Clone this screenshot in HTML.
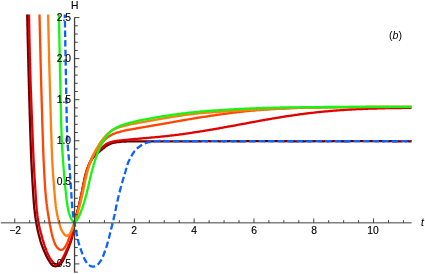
<!DOCTYPE html>
<html><head><meta charset="utf-8"><title>plot</title>
<style>
html,body{margin:0;padding:0;background:#fff;}
body{width:425px;height:274px;position:relative;overflow:hidden;font-family:"Liberation Sans",sans-serif;}
.l{position:absolute;font-size:10.3px;line-height:10.3px;color:#000;white-space:nowrap;will-change:transform;-webkit-text-stroke:0.15px #000;}
</style></head><body>
<svg width="425" height="274" viewBox="0 0 425 274" style="position:absolute;left:0;top:0"><rect width="425" height="274" fill="#fff"/><path d="M27.2 14.6L27.2 15.6L27.2 16.6L27.3 17.6L27.3 18.6L27.3 19.6L27.3 20.6L27.4 21.6L27.4 22.6L27.4 23.6L27.4 24.6L27.4 25.6L27.5 26.6L27.5 27.6L27.5 28.6L27.5 29.6L27.6 30.6L27.6 31.6L27.6 32.6L27.6 33.6L27.6 34.6L27.7 35.6L27.7 36.6L27.7 37.6L27.7 38.6L27.8 39.6L27.8 40.6L27.8 41.6L27.8 42.6L27.9 43.6L27.9 44.6L27.9 45.6L27.9 46.6L28.0 47.6L28.0 48.6L28.0 49.6L28.0 50.6L28.1 51.6L28.1 52.6L28.1 53.6L28.1 54.6L28.2 55.6L28.2 56.6L28.2 57.6L28.2 58.6L28.3 59.6L28.3 60.6L28.3 61.6L28.3 62.6L28.4 63.6L28.4 64.6L28.4 65.6L28.4 66.6L28.5 67.6L28.5 68.6L28.5 69.6L28.5 70.6L28.6 71.6L28.6 72.6L28.6 73.6L28.6 74.6L28.7 75.6L28.7 76.6L28.7 77.6L28.8 78.6L28.8 79.6L28.8 80.6L28.8 81.6L28.9 82.6L28.9 83.6L28.9 84.6L28.9 85.6L29.0 86.6L29.0 87.6L29.0 88.6L29.1 89.6L29.1 90.6L29.1 91.6L29.1 92.6L29.2 93.6L29.2 94.6L29.2 95.6L29.3 96.6L29.3 97.6L29.3 98.6L29.3 99.6L29.4 100.6L29.4 101.6L29.4 102.6L29.5 103.6L29.5 104.6L29.5 105.6L29.5 106.6L29.6 107.6L29.6 108.6L29.6 109.6L29.7 110.6L29.7 111.6L29.7 112.6L29.7 113.6L29.8 114.6L29.8 115.6L29.8 116.6L29.9 117.6L29.9 118.6L29.9 119.6L29.9 120.6L30.0 121.6L30.0 122.6L30.0 123.6L30.1 124.6L30.1 125.6L30.1 126.6L30.2 127.6L30.2 128.6L30.2 129.6L30.3 130.6L30.3 131.6L30.3 132.6L30.4 133.6L30.4 134.6L30.4 135.6L30.5 136.6L30.5 137.6L30.5 138.6L30.6 139.6L30.6 140.6L30.6 141.6L30.7 142.6L30.7 143.6L30.7 144.6L30.8 145.6L30.8 146.6L30.8 147.5L30.9 148.5L30.9 149.5L30.9 150.5L31.0 151.5L31.0 152.5L31.0 153.5L31.1 154.5L31.1 155.5L31.2 156.5L31.2 157.5L31.2 158.5L31.3 159.5L31.3 160.5L31.4 161.5L31.4 162.5L31.5 163.5L31.5 164.5L31.6 165.5L31.6 166.5L31.7 167.5L31.7 168.5L31.8 169.5L31.8 170.5L31.9 171.5L31.9 172.5L32.0 173.5L32.0 174.5L32.1 175.5L32.2 176.5L32.2 177.5L32.3 178.5L32.3 179.5L32.4 180.5L32.4 181.5L32.5 182.5L32.6 183.5L32.6 184.5L32.7 185.5L32.8 186.5L32.8 187.5L32.9 188.5L32.9 189.5L33.0 190.5L33.1 191.5L33.1 192.5L33.2 193.5L33.3 194.5L33.3 195.5L33.4 196.5L33.5 197.5L33.5 198.5L33.6 199.5L33.7 200.5L33.7 201.5L33.8 202.5L33.9 203.5L34.0 204.5L34.1 205.5L34.2 206.5L34.2 207.4L34.3 208.4L34.5 209.4L34.6 210.4L34.7 211.4L34.8 212.4L34.9 213.4L35.0 214.4L35.2 215.4L35.3 216.4L35.4 217.4L35.6 218.4L35.7 219.4L35.9 220.3L36.0 221.3L36.2 222.3L36.4 223.3L36.5 224.3L36.7 225.3L36.9 226.3L37.1 227.2L37.3 228.2L37.5 229.2L37.7 230.2L37.9 231.1L38.2 232.1L38.4 233.1L38.6 234.1L38.9 235.0L39.1 236.0L39.4 237.0L39.6 237.9L39.9 238.9L40.2 239.9L40.4 240.8L40.7 241.8L41.0 242.7L41.3 243.7L41.7 244.6L42.0 245.6L42.3 246.5L42.7 247.5L43.0 248.4L43.4 249.3L43.8 250.2L44.2 251.2L44.6 252.1L45.0 253.0L45.4 253.9L45.8 254.8L46.2 255.7L46.7 256.6L47.1 257.5L47.6 258.4L48.1 259.2L48.6 260.1L49.2 260.9L49.7 261.8L50.2 262.6L50.8 263.5L51.4 264.2L52.1 265.0L52.8 265.6L53.6 266.0L54.5 266.2L55.5 266.3L56.4 266.1L57.4 265.9L58.3 265.5L59.2 265.0L59.9 264.4L60.7 263.8L61.3 263.0L61.9 262.2L62.5 261.4L63.0 260.5L63.4 259.7L63.9 258.8L64.3 257.9L64.7 256.9L65.1 256.0L65.5 255.1L65.9 254.2L66.3 253.3L66.7 252.4L67.1 251.4L67.5 250.5L67.9 249.6L68.2 248.7L68.6 247.7L69.0 246.8L69.3 245.9L69.7 244.9L70.0 244.0L70.3 243.0L70.7 242.1L71.0 241.1L71.3 240.2L71.5 239.2L71.8 238.3L72.1 237.3L72.3 236.3L72.5 235.4L72.7 234.4L72.9 233.4L73.0 232.4L73.2 231.4L73.3 230.4L73.5 229.4L73.6 228.4L73.8 227.5L73.9 226.5L74.1 225.5L74.2 224.5L74.4 223.5L74.6 222.5L74.8 221.5L75.0 220.6L75.2 219.6L75.5 218.6L75.7 217.7L76.0 216.7L76.2 215.7L76.5 214.8L76.7 213.8L77.0 212.8L77.3 211.9L77.5 210.9L77.8 209.9L78.1 209.0L78.3 208.0L78.6 207.0L78.8 206.1L79.1 205.1L79.3 204.1L79.5 203.1L79.7 202.2L80.0 201.2L80.2 200.2L80.4 199.2L80.6 198.3L80.8 197.3L81.0 196.3L81.2 195.3L81.4 194.4L81.6 193.4L81.8 192.4L82.0 191.4L82.2 190.4L82.4 189.5L82.6 188.5L82.8 187.5L83.0 186.5L83.2 185.5L83.4 184.5L83.6 183.6L83.8 182.6L84.0 181.6L84.2 180.6L84.4 179.6L84.6 178.7L84.8 177.7L85.0 176.7L85.3 175.8L85.5 174.8L85.8 173.8L86.0 172.8L86.3 171.9L86.6 170.9L86.9 170.0L87.3 169.0L87.6 168.1L88.0 167.2L88.4 166.3L88.8 165.3L89.2 164.4L89.6 163.5L90.1 162.6L90.5 161.8L91.0 160.9L91.5 160.0L92.1 159.2L92.6 158.4L93.2 157.6L93.9 156.8L94.5 156.0L95.2 155.3L96.0 154.7L96.7 154.0L97.5 153.4L98.2 152.7L99.0 152.0L99.7 151.4L100.5 150.7L101.3 150.1L102.0 149.4L102.8 148.8L103.6 148.2L104.4 147.6L105.1 146.9L105.9 146.3L106.8 145.8L107.6 145.2L108.5 144.7L109.4 144.3L110.3 143.9L111.2 143.5L112.2 143.2L113.1 142.9L114.1 142.7L115.1 142.5L116.0 142.3L117.0 142.2L118.0 142.1L119.0 142.0L120.0 141.9L121.0 141.8L122.0 141.7L123.0 141.6L124.0 141.6L125.0 141.5L126.0 141.5L127.0 141.4L128.0 141.4L129.0 141.4L130.0 141.4L131.0 141.4L132.0 141.3L133.0 141.3L134.0 141.3L135.0 141.3L136.0 141.3L137.0 141.3L138.0 141.3L139.0 141.3L140.0 141.3L141.0 141.3L142.0 141.3L143.0 141.3L144.0 141.3L145.0 141.3L146.0 141.3L147.0 141.3L148.0 141.3L149.0 141.3L150.0 141.3L151.0 141.3L152.0 141.3L153.0 141.3L154.0 141.3L155.0 141.3L156.0 141.3L157.0 141.3L158.0 141.3L159.0 141.3L160.0 141.3L161.0 141.3L162.0 141.3L163.0 141.3L164.0 141.3L165.0 141.3L166.0 141.3L167.0 141.3L168.0 141.3L169.0 141.3L170.0 141.3L171.0 141.3L172.0 141.3L173.0 141.3L174.0 141.3L175.0 141.3L176.0 141.3L177.0 141.3L178.0 141.3L179.0 141.3L180.0 141.3L181.0 141.3L182.0 141.3L183.0 141.3L184.0 141.3L185.0 141.3L186.0 141.3L187.0 141.3L188.0 141.3L189.0 141.3L190.0 141.3L191.0 141.3L192.0 141.3L193.0 141.3L194.0 141.3L195.0 141.3L196.0 141.3L197.0 141.3L198.0 141.3L199.0 141.2L200.0 141.3L201.0 141.3L202.0 141.2L203.0 141.2L204.0 141.2L205.0 141.2L206.0 141.3L207.0 141.3L208.0 141.2L209.0 141.2L210.0 141.3L211.0 141.2L212.0 141.2L213.0 141.2L214.0 141.2L215.0 141.2L216.0 141.2L217.0 141.2L218.0 141.2L219.0 141.3L220.0 141.3L221.0 141.2L222.0 141.2L223.0 141.3L224.0 141.2L225.0 141.3L226.0 141.2L227.0 141.2L228.0 141.3L229.0 141.2L230.0 141.2L231.0 141.2L232.0 141.2L233.0 141.3L234.0 141.2L235.0 141.2L236.0 141.2L237.0 141.3L238.0 141.2L239.0 141.3L240.0 141.2L241.0 141.3L242.0 141.2L243.0 141.3L244.0 141.3L245.0 141.3L246.0 141.2L247.0 141.2L248.0 141.2L249.0 141.2L250.0 141.2L251.0 141.2L252.0 141.2L253.0 141.2L254.0 141.2L255.0 141.2L256.0 141.2L257.0 141.2L258.0 141.2L259.0 141.2L260.0 141.2L261.0 141.2L262.0 141.2L263.0 141.2L264.0 141.2L265.0 141.2L266.0 141.2L267.0 141.2L268.0 141.2L269.0 141.2L270.0 141.2L271.0 141.2L272.0 141.3L273.0 141.2L274.0 141.2L275.0 141.2L276.0 141.2L277.0 141.2L278.0 141.2L279.0 141.2L280.0 141.3L281.0 141.2L282.0 141.2L283.0 141.2L284.0 141.2L285.0 141.3L286.0 141.2L287.0 141.2L288.0 141.2L289.0 141.3L290.0 141.2L291.0 141.3L292.0 141.2L293.0 141.3L294.0 141.2L295.0 141.3L296.0 141.3L297.0 141.3L298.0 141.2L299.0 141.2L300.0 141.2L301.0 141.2L302.0 141.3L303.0 141.2L304.0 141.3L305.0 141.3L306.0 141.2L307.0 141.2L308.0 141.2L309.0 141.2L310.0 141.3L311.0 141.3L312.0 141.2L313.0 141.2L314.0 141.3L315.0 141.2L316.0 141.2L317.0 141.2L318.0 141.2L319.0 141.2L320.0 141.2L321.0 141.2L322.0 141.2L323.0 141.3L324.0 141.3L325.0 141.2L326.0 141.2L327.0 141.3L328.0 141.2L329.0 141.3L330.0 141.2L331.0 141.2L332.0 141.3L333.0 141.2L334.0 141.2L335.0 141.2L336.0 141.2L337.0 141.3L338.0 141.2L339.0 141.2L340.0 141.2L341.0 141.3L342.0 141.2L343.0 141.3L344.0 141.2L345.0 141.3L346.0 141.2L347.0 141.3L348.0 141.3L349.0 141.3L350.0 141.2L351.0 141.2L352.0 141.2L353.0 141.2L354.0 141.2L355.0 141.2L356.0 141.2L357.0 141.2L358.0 141.2L359.0 141.2L360.0 141.2L361.0 141.2L362.0 141.2L363.0 141.2L364.0 141.2L365.0 141.2L366.0 141.2L367.0 141.2L368.0 141.2L369.0 141.2L370.0 141.2L371.0 141.2L372.0 141.2L373.0 141.2L374.0 141.2L375.0 141.2L376.0 141.3L377.0 141.2L378.0 141.2L379.0 141.2L380.0 141.2L381.0 141.2L382.0 141.2L383.0 141.2L384.0 141.3L385.0 141.2L386.0 141.2L387.0 141.2L388.0 141.2L389.0 141.3L390.0 141.2L391.0 141.2L392.0 141.2L393.0 141.3L394.0 141.2L395.0 141.3L396.0 141.2L397.0 141.3L398.0 141.2L399.0 141.3L400.0 141.3L401.0 141.3L402.0 141.2L403.0 141.2L404.0 141.2L405.0 141.2L406.0 141.3L407.0 141.2L408.0 141.2L409.0 141.3L410.0 141.3L411.0 141.2L411.5 141.3" fill="none" stroke="#6b0000" stroke-width="2.3" stroke-linejoin="round"/><path d="M29.0 14.6L29.0 15.6L29.0 16.6L29.0 17.6L29.1 18.6L29.1 19.6L29.1 20.6L29.1 21.6L29.1 22.6L29.1 23.6L29.2 24.6L29.2 25.6L29.2 26.6L29.2 27.6L29.2 28.6L29.3 29.6L29.3 30.6L29.3 31.6L29.3 32.6L29.3 33.6L29.4 34.6L29.4 35.6L29.4 36.6L29.4 37.6L29.4 38.6L29.5 39.6L29.5 40.6L29.5 41.6L29.5 42.6L29.6 43.6L29.6 44.6L29.6 45.6L29.6 46.6L29.7 47.6L29.7 48.6L29.7 49.6L29.7 50.6L29.7 51.6L29.8 52.6L29.8 53.6L29.8 54.6L29.8 55.6L29.9 56.6L29.9 57.6L29.9 58.6L30.0 59.6L30.0 60.6L30.0 61.6L30.0 62.6L30.1 63.6L30.1 64.6L30.1 65.6L30.1 66.6L30.2 67.6L30.2 68.6L30.2 69.6L30.2 70.6L30.3 71.6L30.3 72.6L30.3 73.6L30.4 74.6L30.4 75.6L30.4 76.6L30.5 77.6L30.5 78.6L30.5 79.6L30.5 80.6L30.6 81.6L30.6 82.6L30.6 83.6L30.7 84.6L30.7 85.6L30.7 86.6L30.8 87.6L30.8 88.6L30.8 89.6L30.9 90.6L30.9 91.6L31.0 92.6L31.0 93.6L31.0 94.6L31.1 95.6L31.1 96.6L31.1 97.6L31.2 98.6L31.2 99.6L31.2 100.6L31.3 101.6L31.3 102.6L31.4 103.6L31.4 104.6L31.4 105.6L31.5 106.6L31.5 107.6L31.5 108.6L31.6 109.6L31.6 110.6L31.7 111.6L31.7 112.6L31.7 113.6L31.8 114.6L31.8 115.6L31.9 116.6L31.9 117.6L31.9 118.6L32.0 119.6L32.0 120.6L32.0 121.6L32.1 122.6L32.1 123.6L32.2 124.6L32.2 125.6L32.2 126.5L32.3 127.5L32.3 128.5L32.4 129.5L32.4 130.5L32.4 131.5L32.5 132.5L32.5 133.5L32.6 134.5L32.6 135.5L32.6 136.5L32.7 137.5L32.7 138.5L32.8 139.5L32.8 140.5L32.8 141.5L32.9 142.5L32.9 143.5L33.0 144.5L33.0 145.5L33.0 146.5L33.1 147.5L33.1 148.5L33.1 149.5L33.2 150.5L33.2 151.5L33.3 152.5L33.3 153.5L33.4 154.5L33.4 155.5L33.4 156.5L33.5 157.5L33.5 158.5L33.6 159.5L33.6 160.5L33.7 161.5L33.7 162.5L33.8 163.5L33.8 164.5L33.9 165.5L33.9 166.5L34.0 167.5L34.1 168.5L34.1 169.5L34.2 170.5L34.2 171.5L34.3 172.5L34.3 173.5L34.4 174.5L34.5 175.5L34.5 176.5L34.6 177.5L34.6 178.5L34.7 179.5L34.8 180.5L34.8 181.5L34.9 182.5L35.0 183.5L35.0 184.5L35.1 185.5L35.2 186.5L35.2 187.5L35.3 188.5L35.3 189.5L35.4 190.5L35.5 191.5L35.5 192.5L35.6 193.5L35.7 194.5L35.7 195.5L35.8 196.5L35.9 197.5L35.9 198.5L36.0 199.5L36.0 200.4L36.1 201.4L36.2 202.4L36.2 203.4L36.3 204.4L36.4 205.4L36.5 206.4L36.5 207.4L36.6 208.4L36.7 209.4L36.8 210.4L37.0 211.4L37.1 212.4L37.2 213.4L37.3 214.4L37.4 215.4L37.6 216.4L37.7 217.4L37.9 218.3L38.0 219.3L38.2 220.3L38.3 221.3L38.5 222.3L38.7 223.3L38.9 224.3L39.1 225.2L39.3 226.2L39.5 227.2L39.7 228.2L39.9 229.1L40.2 230.1L40.4 231.1L40.7 232.1L40.9 233.0L41.2 234.0L41.5 235.0L41.7 235.9L42.0 236.9L42.3 237.8L42.5 238.8L42.8 239.8L43.1 240.7L43.4 241.7L43.7 242.6L44.0 243.6L44.3 244.5L44.6 245.5L44.9 246.4L45.2 247.4L45.6 248.3L45.9 249.3L46.3 250.2L46.6 251.1L47.0 252.1L47.4 253.0L47.8 253.9L48.2 254.8L48.7 255.7L49.1 256.6L49.6 257.5L50.1 258.3L50.7 259.2L51.2 260.0L51.8 260.8L52.4 261.6L53.1 262.3L53.8 263.1L54.5 263.7L55.3 264.2L56.1 264.5L57.0 264.5L57.8 264.2L58.6 263.7L59.4 263.1L60.1 262.4L60.7 261.6L61.2 260.8L61.8 259.9L62.3 259.1L62.7 258.2L63.2 257.3L63.6 256.4L64.1 255.5L64.5 254.6L65.0 253.7L65.4 252.8L65.8 251.9L66.2 251.0L66.6 250.1L67.0 249.2L67.5 248.3L67.9 247.4L68.3 246.5L68.7 245.5L69.1 244.6L69.5 243.7L69.9 242.8L70.3 241.8L70.6 240.9L70.9 240.0L71.2 239.0L71.5 238.0L71.8 237.1L72.0 236.1L72.2 235.1L72.5 234.2L72.7 233.2L72.9 232.2L73.0 231.2L73.2 230.2L73.4 229.3L73.5 228.3L73.7 227.3L73.9 226.3L74.0 225.3L74.2 224.3L74.4 223.3L74.6 222.4L74.8 221.4L75.0 220.4L75.3 219.4L75.5 218.5L75.8 217.5L76.0 216.5L76.3 215.6L76.6 214.6L76.8 213.6L77.1 212.7L77.3 211.7L77.6 210.7L77.9 209.8L78.1 208.8L78.4 207.8L78.6 206.9L78.9 205.9L79.1 204.9L79.3 204.0L79.6 203.0L79.8 202.0L80.0 201.0L80.2 200.1L80.4 199.1L80.6 198.1L80.8 197.1L81.0 196.2L81.3 195.2L81.5 194.2L81.7 193.2L81.9 192.2L82.1 191.3L82.3 190.3L82.5 189.3L82.7 188.3L82.9 187.3L83.0 186.4L83.2 185.4L83.4 184.4L83.6 183.4L83.8 182.4L84.0 181.5L84.2 180.5L84.5 179.5L84.7 178.5L84.9 177.5L85.1 176.6L85.4 175.6L85.6 174.6L85.8 173.7L86.1 172.7L86.4 171.7L86.7 170.8L87.0 169.8L87.3 168.9L87.6 167.9L88.0 167.0L88.4 166.1L88.7 165.1L89.1 164.2L89.5 163.3L89.9 162.4L90.4 161.5L90.8 160.6L91.3 159.7L91.8 158.9L92.3 158.0L92.8 157.2L93.4 156.3L94.0 155.5L94.7 154.8L95.3 154.0L96.0 153.3L96.8 152.6L97.5 152.0L98.2 151.3L98.9 150.6L99.7 149.9L100.4 149.2L101.1 148.5L101.8 147.8L102.5 147.1L103.3 146.4L104.0 145.8L104.8 145.1L105.6 144.5L106.4 144.0L107.3 143.5L108.2 143.1L109.1 142.7L110.0 142.4L111.0 142.0L111.9 141.8L112.9 141.5L113.9 141.3L114.9 141.1L115.8 141.0L116.8 140.8L117.8 140.7L118.8 140.6L119.8 140.5L120.8 140.4L121.8 140.3L122.8 140.2L123.8 140.1L124.8 140.0L125.8 139.9L126.8 139.8L127.8 139.7L128.7 139.6L129.7 139.5L130.7 139.4L131.7 139.3L132.7 139.2L133.7 139.1L134.7 139.0L135.7 139.0L136.7 138.9L137.7 138.8L138.7 138.7L139.7 138.6L140.7 138.5L141.7 138.4L142.7 138.3L143.7 138.2L144.7 138.1L145.7 138.1L146.7 138.0L147.7 137.9L148.7 137.8L149.7 137.7L150.7 137.6L151.6 137.5L152.6 137.4L153.6 137.3L154.6 137.3L155.6 137.2L156.6 137.1L157.6 137.0L158.6 136.9L159.6 136.8L160.6 136.7L161.6 136.6L162.6 136.5L163.6 136.4L164.6 136.3L165.6 136.2L166.6 136.1L167.6 136.0L168.6 135.9L169.6 135.7L170.5 135.6L171.5 135.5L172.5 135.4L173.5 135.3L174.5 135.2L175.5 135.0L176.5 134.9L177.5 134.8L178.5 134.7L179.5 134.5L180.5 134.4L181.5 134.3L182.4 134.1L183.4 134.0L184.4 133.8L185.4 133.7L186.4 133.6L187.4 133.4L188.4 133.3L189.4 133.1L190.4 133.0L191.3 132.8L192.3 132.7L193.3 132.5L194.3 132.4L195.3 132.2L196.3 132.1L197.3 131.9L198.3 131.8L199.3 131.6L200.2 131.4L201.2 131.3L202.2 131.1L203.2 131.0L204.2 130.8L205.2 130.6L206.2 130.5L207.1 130.3L208.1 130.1L209.1 130.0L210.1 129.8L211.1 129.6L212.1 129.5L213.1 129.3L214.0 129.1L215.0 129.0L216.0 128.8L217.0 128.6L218.0 128.5L219.0 128.3L220.0 128.1L220.9 127.9L221.9 127.8L222.9 127.6L223.9 127.4L224.9 127.2L225.9 127.1L226.8 126.9L227.8 126.7L228.8 126.5L229.8 126.4L230.8 126.2L231.8 126.0L232.8 125.8L233.7 125.6L234.7 125.5L235.7 125.3L236.7 125.1L237.7 124.9L238.7 124.7L239.6 124.5L240.6 124.4L241.6 124.2L242.6 124.0L243.6 123.8L244.6 123.6L245.5 123.5L246.5 123.3L247.5 123.1L248.5 122.9L249.5 122.7L250.5 122.5L251.4 122.4L252.4 122.2L253.4 122.0L254.4 121.8L255.4 121.6L256.4 121.4L257.3 121.3L258.3 121.1L259.3 120.9L260.3 120.7L261.3 120.5L262.3 120.4L263.2 120.2L264.2 120.0L265.2 119.8L266.2 119.7L267.2 119.5L268.2 119.3L269.1 119.1L270.1 119.0L271.1 118.8L272.1 118.6L273.1 118.4L274.1 118.3L275.1 118.1L276.0 117.9L277.0 117.8L278.0 117.6L279.0 117.5L280.0 117.3L281.0 117.1L282.0 117.0L282.9 116.8L283.9 116.7L284.9 116.5L285.9 116.4L286.9 116.2L287.9 116.1L288.9 115.9L289.9 115.8L290.9 115.6L291.8 115.5L292.8 115.3L293.8 115.2L294.8 115.0L295.8 114.9L296.8 114.8L297.8 114.6L298.8 114.5L299.8 114.4L300.8 114.2L301.7 114.1L302.7 114.0L303.7 113.8L304.7 113.7L305.7 113.6L306.7 113.5L307.7 113.4L308.7 113.2L309.7 113.1L310.7 113.0L311.7 112.9L312.7 112.8L313.7 112.7L314.7 112.6L315.6 112.4L316.6 112.3L317.6 112.2L318.6 112.1L319.6 112.0L320.6 111.9L321.6 111.8L322.6 111.7L323.6 111.6L324.6 111.5L325.6 111.4L326.6 111.3L327.6 111.3L328.6 111.2L329.6 111.1L330.6 111.0L331.6 110.9L332.6 110.8L333.6 110.7L334.6 110.7L335.6 110.6L336.6 110.5L337.5 110.4L338.5 110.3L339.5 110.3L340.5 110.2L341.5 110.1L342.5 110.1L343.5 110.0L344.5 109.9L345.5 109.9L346.5 109.8L347.5 109.7L348.5 109.7L349.5 109.6L350.5 109.5L351.5 109.5L352.5 109.4L353.5 109.4L354.5 109.3L355.5 109.3L356.5 109.2L357.5 109.2L358.5 109.1L359.5 109.1L360.5 109.0L361.5 109.0L362.5 109.0L363.5 108.9L364.5 108.9L365.5 108.8L366.5 108.8L367.5 108.8L368.5 108.7L369.5 108.7L370.5 108.7L371.5 108.6L372.5 108.6L373.5 108.6L374.5 108.5L375.5 108.5L376.5 108.5L377.5 108.4L378.5 108.4L379.5 108.4L380.5 108.4L381.5 108.3L382.5 108.3L383.5 108.3L384.5 108.3L385.5 108.2L386.5 108.2L387.5 108.2L388.5 108.2L389.5 108.2L390.5 108.1L391.5 108.1L392.5 108.1L393.5 108.1L394.5 108.1L395.5 108.0L396.5 108.0L397.5 108.0L398.5 108.0L399.5 108.0L400.5 108.0L401.5 108.0L402.5 107.9L403.5 107.9L404.5 107.9L405.5 107.9L406.5 107.9L407.5 107.9L408.5 107.9L409.5 107.9L410.5 107.8L411.5 107.8" fill="none" stroke="#e00000" stroke-width="2.3" stroke-linejoin="round"/><path d="M39.5 14.6L39.5 15.6L39.5 16.6L39.6 17.6L39.6 18.6L39.6 19.6L39.6 20.6L39.7 21.6L39.7 22.6L39.7 23.6L39.7 24.6L39.7 25.6L39.8 26.6L39.8 27.6L39.8 28.6L39.8 29.6L39.9 30.6L39.9 31.6L39.9 32.6L39.9 33.6L39.9 34.6L40.0 35.6L40.0 36.6L40.0 37.6L40.0 38.6L40.1 39.6L40.1 40.6L40.1 41.6L40.1 42.6L40.2 43.6L40.2 44.6L40.2 45.6L40.2 46.6L40.3 47.6L40.3 48.6L40.3 49.6L40.3 50.6L40.4 51.6L40.4 52.6L40.4 53.6L40.4 54.6L40.5 55.6L40.5 56.6L40.5 57.6L40.5 58.6L40.6 59.6L40.6 60.6L40.6 61.6L40.6 62.6L40.7 63.6L40.7 64.6L40.7 65.6L40.7 66.6L40.8 67.6L40.8 68.6L40.8 69.6L40.8 70.6L40.9 71.6L40.9 72.6L40.9 73.6L40.9 74.6L41.0 75.6L41.0 76.6L41.0 77.6L41.1 78.6L41.1 79.6L41.1 80.6L41.1 81.6L41.2 82.6L41.2 83.6L41.2 84.6L41.2 85.6L41.3 86.6L41.3 87.6L41.3 88.6L41.4 89.6L41.4 90.6L41.4 91.6L41.4 92.6L41.5 93.6L41.5 94.6L41.5 95.6L41.6 96.6L41.6 97.6L41.6 98.6L41.6 99.6L41.7 100.6L41.7 101.6L41.7 102.6L41.8 103.6L41.8 104.6L41.8 105.6L41.8 106.6L41.9 107.6L41.9 108.6L41.9 109.6L42.0 110.6L42.0 111.6L42.0 112.6L42.0 113.6L42.1 114.6L42.1 115.6L42.1 116.6L42.2 117.6L42.2 118.6L42.2 119.6L42.2 120.6L42.3 121.6L42.3 122.6L42.3 123.6L42.4 124.6L42.4 125.6L42.4 126.6L42.5 127.6L42.5 128.6L42.5 129.6L42.6 130.6L42.6 131.6L42.6 132.6L42.7 133.6L42.7 134.6L42.7 135.6L42.8 136.6L42.8 137.6L42.8 138.6L42.9 139.6L42.9 140.6L42.9 141.6L43.0 142.6L43.0 143.6L43.0 144.6L43.1 145.6L43.1 146.6L43.1 147.5L43.2 148.5L43.2 149.5L43.2 150.5L43.3 151.5L43.3 152.5L43.3 153.5L43.4 154.5L43.4 155.5L43.5 156.5L43.5 157.5L43.5 158.5L43.6 159.5L43.6 160.5L43.7 161.5L43.7 162.5L43.8 163.5L43.8 164.5L43.9 165.5L43.9 166.5L44.0 167.5L44.0 168.5L44.1 169.5L44.1 170.5L44.2 171.5L44.2 172.5L44.3 173.5L44.3 174.5L44.4 175.5L44.4 176.5L44.5 177.5L44.6 178.5L44.6 179.5L44.7 180.5L44.7 181.5L44.8 182.5L44.9 183.5L44.9 184.5L45.0 185.5L45.1 186.5L45.1 187.5L45.2 188.5L45.3 189.5L45.3 190.5L45.4 191.5L45.5 192.5L45.6 193.5L45.7 194.5L45.7 195.5L45.8 196.5L45.9 197.5L46.0 198.5L46.1 199.5L46.3 200.4L46.4 201.4L46.5 202.4L46.6 203.4L46.8 204.4L46.9 205.4L47.0 206.4L47.2 207.4L47.3 208.4L47.4 209.4L47.6 210.4L47.7 211.4L47.9 212.3L48.0 213.3L48.2 214.3L48.3 215.3L48.5 216.3L48.6 217.3L48.8 218.3L49.0 219.3L49.1 220.2L49.3 221.2L49.5 222.2L49.7 223.2L49.8 224.2L50.0 225.2L50.2 226.1L50.4 227.1L50.6 228.1L50.8 229.1L51.0 230.1L51.2 231.0L51.4 232.0L51.6 233.0L51.8 234.0L52.1 234.9L52.3 235.9L52.6 236.9L52.9 237.8L53.2 238.8L53.5 239.7L53.8 240.7L54.1 241.6L54.5 242.6L54.8 243.5L55.2 244.4L55.7 245.3L56.2 246.2L56.7 247.0L57.4 247.7L58.1 248.4L58.8 249.1L59.6 249.5L60.5 249.8L61.4 249.9L62.3 249.6L63.1 249.2L63.8 248.5L64.5 247.8L65.1 247.0L65.6 246.2L66.1 245.3L66.6 244.4L67.0 243.5L67.4 242.6L67.8 241.7L68.1 240.7L68.5 239.8L68.8 238.9L69.1 237.9L69.5 237.0L69.8 236.0L70.1 235.1L70.4 234.1L70.8 233.2L71.1 232.2L71.4 231.3L71.7 230.3L72.1 229.4L72.4 228.5L72.8 227.5L73.1 226.6L73.5 225.7L73.8 224.7L74.1 223.8L74.5 222.8L74.8 221.9L75.1 220.9L75.4 220.0L75.6 219.0L75.9 218.0L76.2 217.1L76.4 216.1L76.7 215.1L76.9 214.2L77.2 213.2L77.4 212.2L77.7 211.3L77.9 210.3L78.2 209.3L78.4 208.4L78.6 207.4L78.9 206.4L79.1 205.4L79.3 204.5L79.5 203.5L79.8 202.5L80.0 201.5L80.2 200.6L80.4 199.6L80.6 198.6L80.8 197.6L81.0 196.7L81.3 195.7L81.5 194.7L81.7 193.7L81.9 192.7L82.1 191.8L82.3 190.8L82.5 189.8L82.7 188.8L82.9 187.8L83.1 186.9L83.3 185.9L83.5 184.9L83.7 183.9L83.9 182.9L84.1 182.0L84.3 181.0L84.5 180.0L84.7 179.0L84.9 178.0L85.1 177.1L85.4 176.1L85.6 175.1L85.8 174.2L86.1 173.2L86.4 172.2L86.6 171.3L86.9 170.3L87.2 169.4L87.5 168.4L87.9 167.5L88.2 166.5L88.5 165.6L88.9 164.7L89.3 163.7L89.7 162.8L90.0 161.9L90.4 161.0L90.9 160.0L91.3 159.1L91.7 158.2L92.1 157.3L92.6 156.4L93.0 155.6L93.5 154.7L94.0 153.8L94.5 152.9L95.0 152.1L95.5 151.2L96.0 150.4L96.6 149.5L97.2 148.7L97.8 147.9L98.4 147.1L99.0 146.4L99.7 145.6L100.3 144.8L101.0 144.1L101.6 143.3L102.3 142.5L102.9 141.8L103.6 141.1L104.3 140.3L105.0 139.6L105.7 138.9L106.5 138.3L107.2 137.6L108.0 137.0L108.8 136.4L109.7 135.9L110.5 135.4L111.4 134.9L112.3 134.4L113.2 134.0L114.1 133.6L115.0 133.3L116.0 132.9L116.9 132.6L117.9 132.3L118.8 132.1L119.8 131.8L120.7 131.5L121.7 131.3L122.7 131.1L123.7 130.8L124.6 130.6L125.6 130.4L126.6 130.2L127.6 130.0L128.5 129.8L129.5 129.6L130.5 129.5L131.5 129.3L132.5 129.1L133.5 128.9L134.4 128.8L135.4 128.6L136.4 128.4L137.4 128.2L138.4 128.1L139.4 127.9L140.4 127.7L141.3 127.6L142.3 127.4L143.3 127.2L144.3 127.1L145.3 126.9L146.3 126.7L147.3 126.6L148.2 126.4L149.2 126.2L150.2 126.1L151.2 125.9L152.2 125.7L153.2 125.5L154.2 125.4L155.1 125.2L156.1 125.0L157.1 124.9L158.1 124.7L159.1 124.5L160.1 124.3L161.0 124.2L162.0 124.0L163.0 123.8L164.0 123.7L165.0 123.5L166.0 123.3L167.0 123.1L167.9 123.0L168.9 122.8L169.9 122.6L170.9 122.4L171.9 122.3L172.9 122.1L173.9 121.9L174.8 121.7L175.8 121.6L176.8 121.4L177.8 121.2L178.8 121.1L179.8 120.9L180.7 120.7L181.7 120.5L182.7 120.4L183.7 120.2L184.7 120.0L185.7 119.8L186.7 119.7L187.6 119.5L188.6 119.3L189.6 119.2L190.6 119.0L191.6 118.8L192.6 118.7L193.6 118.5L194.5 118.3L195.5 118.2L196.5 118.0L197.5 117.9L198.5 117.7L199.5 117.5L200.5 117.4L201.5 117.2L202.4 117.1L203.4 116.9L204.4 116.8L205.4 116.6L206.4 116.5L207.4 116.3L208.4 116.2L209.4 116.0L210.3 115.9L211.3 115.7L212.3 115.6L213.3 115.4L214.3 115.3L215.3 115.2L216.3 115.0L217.3 114.9L218.3 114.7L219.3 114.6L220.2 114.4L221.2 114.3L222.2 114.2L223.2 114.0L224.2 113.9L225.2 113.8L226.2 113.6L227.2 113.5L228.2 113.4L229.2 113.2L230.2 113.1L231.1 113.0L232.1 112.8L233.1 112.7L234.1 112.6L235.1 112.5L236.1 112.4L237.1 112.2L238.1 112.1L239.1 112.0L240.1 111.9L241.1 111.8L242.1 111.7L243.1 111.6L244.1 111.4L245.0 111.3L246.0 111.2L247.0 111.1L248.0 111.0L249.0 110.9L250.0 110.8L251.0 110.7L252.0 110.7L253.0 110.6L254.0 110.5L255.0 110.4L256.0 110.3L257.0 110.2L258.0 110.1L259.0 110.1L260.0 110.0L261.0 109.9L262.0 109.8L263.0 109.8L264.0 109.7L265.0 109.6L266.0 109.5L267.0 109.5L268.0 109.4L269.0 109.3L270.0 109.3L270.9 109.2L271.9 109.2L272.9 109.1L273.9 109.0L274.9 109.0L275.9 108.9L276.9 108.9L277.9 108.8L278.9 108.8L279.9 108.7L280.9 108.7L281.9 108.6L282.9 108.6L283.9 108.5L284.9 108.5L285.9 108.4L286.9 108.4L287.9 108.3L288.9 108.3L289.9 108.2L290.9 108.2L291.9 108.2L292.9 108.1L293.9 108.1L294.9 108.0L295.9 108.0L296.9 108.0L297.9 107.9L298.9 107.9L299.9 107.9L300.9 107.8L301.9 107.8L302.9 107.8L303.9 107.8L304.9 107.7L305.9 107.7L306.9 107.7L307.9 107.7L308.9 107.6L309.9 107.6L310.9 107.6L311.9 107.6L312.9 107.6L313.9 107.5L314.9 107.5L315.9 107.5L316.9 107.5L317.9 107.5L318.9 107.5L319.9 107.4L320.9 107.4L321.9 107.4L322.9 107.4L323.9 107.4L324.9 107.4L325.9 107.4L326.9 107.3L327.9 107.3L328.9 107.3L329.9 107.3L330.9 107.3L331.9 107.3L332.9 107.3L333.9 107.3L334.9 107.3L335.9 107.3L336.9 107.2L337.9 107.2L338.9 107.2L339.9 107.2L340.9 107.2L341.9 107.2L342.9 107.2L343.9 107.2L344.9 107.2L345.9 107.2L346.9 107.2L347.9 107.2L348.9 107.1L349.9 107.1L350.9 107.1L351.9 107.1L352.9 107.1L353.9 107.1L354.9 107.1L355.9 107.1L356.9 107.1L357.9 107.1L358.9 107.1L359.9 107.1L360.9 107.1L361.9 107.1L362.9 107.1L363.9 107.1L364.9 107.1L365.9 107.0L366.9 107.0L367.9 107.0L368.9 107.0L369.9 107.0L370.9 107.0L371.9 107.0L372.9 107.0L373.9 107.0L374.9 107.0L375.9 107.0L376.9 107.0L377.9 107.0L378.9 107.0L379.9 107.0L380.9 107.0L381.9 107.0L382.9 107.0L383.9 107.0L384.9 107.0L385.9 107.0L386.9 107.0L387.9 107.0L388.9 107.0L389.9 107.0L390.9 106.9L391.9 106.9L392.9 106.9L393.9 106.9L394.9 106.9L395.9 106.9L396.9 106.9L397.9 106.9L398.9 106.9L399.9 106.9L400.9 106.9L401.9 106.9L402.9 106.9L403.9 106.9L404.9 106.9L405.9 106.9L406.9 106.9L407.9 106.9L408.9 106.9L409.9 106.9L410.9 106.9L411.4 106.9" fill="none" stroke="#ff4500" stroke-width="2.3" stroke-linejoin="round"/><path d="M48.1 14.6L48.1 15.6L48.1 16.6L48.2 17.6L48.2 18.6L48.2 19.6L48.2 20.6L48.3 21.6L48.3 22.6L48.3 23.6L48.3 24.6L48.3 25.6L48.4 26.6L48.4 27.6L48.4 28.6L48.4 29.6L48.5 30.6L48.5 31.6L48.5 32.6L48.5 33.6L48.5 34.6L48.6 35.6L48.6 36.6L48.6 37.6L48.6 38.6L48.7 39.6L48.7 40.6L48.7 41.6L48.7 42.6L48.8 43.6L48.8 44.6L48.8 45.6L48.8 46.6L48.9 47.6L48.9 48.6L48.9 49.6L48.9 50.6L49.0 51.6L49.0 52.6L49.0 53.6L49.0 54.6L49.1 55.6L49.1 56.6L49.1 57.6L49.1 58.6L49.2 59.6L49.2 60.6L49.2 61.6L49.2 62.6L49.3 63.6L49.3 64.6L49.3 65.6L49.3 66.6L49.4 67.6L49.4 68.6L49.4 69.6L49.4 70.6L49.5 71.6L49.5 72.6L49.5 73.6L49.5 74.6L49.6 75.6L49.6 76.6L49.6 77.6L49.7 78.6L49.7 79.6L49.7 80.6L49.7 81.6L49.8 82.6L49.8 83.6L49.8 84.6L49.8 85.6L49.9 86.6L49.9 87.6L49.9 88.6L50.0 89.6L50.0 90.6L50.0 91.6L50.0 92.6L50.1 93.6L50.1 94.6L50.1 95.6L50.2 96.6L50.2 97.6L50.2 98.6L50.2 99.6L50.3 100.6L50.3 101.6L50.3 102.6L50.4 103.6L50.4 104.6L50.4 105.6L50.4 106.6L50.5 107.6L50.5 108.6L50.5 109.6L50.6 110.6L50.6 111.6L50.6 112.6L50.6 113.6L50.7 114.6L50.7 115.6L50.7 116.6L50.8 117.6L50.8 118.6L50.8 119.6L50.8 120.6L50.9 121.6L50.9 122.6L50.9 123.6L51.0 124.6L51.0 125.6L51.0 126.6L51.1 127.6L51.1 128.6L51.1 129.6L51.2 130.6L51.2 131.6L51.2 132.6L51.3 133.6L51.3 134.6L51.3 135.6L51.4 136.6L51.4 137.6L51.4 138.6L51.5 139.6L51.5 140.6L51.5 141.6L51.6 142.6L51.6 143.6L51.6 144.6L51.6 145.6L51.7 146.6L51.7 147.6L51.7 148.5L51.8 149.5L51.8 150.5L51.9 151.5L51.9 152.5L51.9 153.5L52.0 154.5L52.0 155.5L52.0 156.5L52.1 157.5L52.1 158.5L52.2 159.5L52.2 160.5L52.3 161.5L52.3 162.5L52.4 163.5L52.4 164.5L52.5 165.5L52.6 166.5L52.6 167.5L52.7 168.5L52.7 169.5L52.8 170.5L52.9 171.5L52.9 172.5L53.0 173.5L53.1 174.5L53.2 175.5L53.2 176.5L53.3 177.5L53.4 178.5L53.4 179.5L53.5 180.5L53.6 181.5L53.7 182.5L53.8 183.5L53.8 184.5L53.9 185.5L54.0 186.5L54.1 187.5L54.1 188.5L54.2 189.5L54.3 190.5L54.4 191.5L54.5 192.5L54.6 193.5L54.7 194.5L54.7 195.4L54.8 196.4L54.9 197.4L55.0 198.4L55.1 199.4L55.2 200.4L55.3 201.4L55.4 202.4L55.5 203.4L55.6 204.4L55.7 205.4L55.8 206.4L56.0 207.4L56.1 208.4L56.3 209.4L56.4 210.3L56.6 211.3L56.8 212.3L56.9 213.3L57.1 214.3L57.3 215.3L57.5 216.2L57.8 217.2L58.0 218.2L58.2 219.2L58.4 220.1L58.7 221.1L58.9 222.1L59.2 223.0L59.5 224.0L59.8 225.0L60.0 225.9L60.3 226.9L60.7 227.8L61.0 228.8L61.4 229.7L61.8 230.6L62.3 231.5L62.8 232.3L63.3 233.1L64.0 233.9L64.6 234.6L65.4 235.3L66.2 235.7L67.0 235.8L67.8 235.6L68.6 235.1L69.3 234.5L69.9 233.7L70.4 232.9L70.9 232.0L71.4 231.1L71.9 230.2L72.2 229.3L72.6 228.4L72.9 227.4L73.3 226.5L73.6 225.5L73.9 224.6L74.2 223.6L74.5 222.7L74.9 221.8L75.2 220.8L75.5 219.9L75.8 218.9L76.1 217.9L76.4 217.0L76.7 216.0L77.0 215.1L77.3 214.1L77.6 213.2L77.9 212.2L78.1 211.3L78.4 210.3L78.7 209.3L79.0 208.4L79.2 207.4L79.5 206.4L79.8 205.5L80.0 204.5L80.3 203.5L80.5 202.6L80.8 201.6L81.0 200.6L81.2 199.7L81.4 198.7L81.7 197.7L81.9 196.7L82.1 195.8L82.3 194.8L82.6 193.8L82.8 192.8L83.0 191.9L83.2 190.9L83.4 189.9L83.6 188.9L83.8 187.9L84.0 187.0L84.2 186.0L84.4 185.0L84.6 184.0L84.8 183.0L85.0 182.1L85.2 181.1L85.4 180.1L85.6 179.1L85.9 178.2L86.1 177.2L86.3 176.2L86.5 175.2L86.8 174.3L87.0 173.3L87.3 172.3L87.5 171.4L87.8 170.4L88.1 169.4L88.4 168.5L88.7 167.5L89.0 166.6L89.3 165.6L89.6 164.7L89.9 163.7L90.3 162.8L90.6 161.9L91.0 160.9L91.3 160.0L91.7 159.1L92.1 158.1L92.5 157.2L92.9 156.3L93.3 155.4L93.7 154.5L94.1 153.5L94.5 152.6L94.9 151.7L95.4 150.8L95.8 149.9L96.3 149.1L96.8 148.2L97.3 147.3L97.8 146.5L98.3 145.6L98.8 144.8L99.4 143.9L100.0 143.1L100.5 142.3L101.1 141.5L101.7 140.7L102.3 139.9L103.0 139.1L103.6 138.3L104.2 137.6L104.9 136.8L105.5 136.0L106.2 135.3L106.9 134.6L107.6 133.9L108.3 133.2L109.1 132.6L109.9 131.9L110.7 131.3L111.5 130.8L112.3 130.3L113.2 129.8L114.1 129.3L115.0 128.9L115.9 128.5L116.8 128.1L117.8 127.8L118.7 127.4L119.6 127.1L120.6 126.8L121.5 126.5L122.5 126.3L123.5 126.0L124.4 125.8L125.4 125.5L126.4 125.3L127.3 125.1L128.3 124.8L129.3 124.6L130.3 124.4L131.3 124.2L132.2 124.0L133.2 123.8L134.2 123.6L135.2 123.5L136.2 123.3L137.1 123.1L138.1 122.9L139.1 122.7L140.1 122.6L141.1 122.4L142.1 122.2L143.0 122.0L144.0 121.8L145.0 121.7L146.0 121.5L147.0 121.3L148.0 121.1L148.9 121.0L149.9 120.8L150.9 120.6L151.9 120.4L152.9 120.3L153.9 120.1L154.8 119.9L155.8 119.7L156.8 119.6L157.8 119.4L158.8 119.2L159.8 119.1L160.8 118.9L161.7 118.7L162.7 118.5L163.7 118.4L164.7 118.2L165.7 118.0L166.7 117.9L167.7 117.7L168.6 117.5L169.6 117.4L170.6 117.2L171.6 117.0L172.6 116.9L173.6 116.7L174.6 116.6L175.5 116.4L176.5 116.3L177.5 116.1L178.5 115.9L179.5 115.8L180.5 115.6L181.5 115.5L182.5 115.4L183.5 115.2L184.4 115.1L185.4 114.9L186.4 114.8L187.4 114.7L188.4 114.6L189.4 114.4L190.4 114.3L191.4 114.2L192.4 114.1L193.4 114.0L194.4 113.8L195.3 113.7L196.3 113.6L197.3 113.5L198.3 113.4L199.3 113.3L200.3 113.2L201.3 113.2L202.3 113.1L203.3 113.0L204.3 112.9L205.3 112.8L206.3 112.7L207.3 112.7L208.3 112.6L209.3 112.5L210.3 112.4L211.3 112.4L212.3 112.3L213.3 112.2L214.3 112.2L215.3 112.1L216.3 112.0L217.3 112.0L218.3 111.9L219.3 111.8L220.3 111.8L221.3 111.7L222.3 111.7L223.3 111.6L224.3 111.5L225.2 111.5L226.2 111.4L227.2 111.4L228.2 111.3L229.2 111.2L230.2 111.2L231.2 111.1L232.2 111.1L233.2 111.0L234.2 111.0L235.2 110.9L236.2 110.8L237.2 110.8L238.2 110.7L239.2 110.7L240.2 110.6L241.2 110.6L242.2 110.5L243.2 110.4L244.2 110.4L245.2 110.3L246.2 110.3L247.2 110.2L248.2 110.2L249.2 110.1L250.2 110.0L251.2 110.0L252.2 109.9L253.2 109.9L254.2 109.8L255.2 109.8L256.2 109.7L257.2 109.6L258.2 109.6L259.2 109.5L260.2 109.5L261.2 109.4L262.2 109.4L263.2 109.3L264.2 109.2L265.2 109.2L266.2 109.1L267.2 109.1L268.2 109.0L269.2 109.0L270.2 108.9L271.2 108.9L272.2 108.8L273.2 108.8L274.2 108.7L275.2 108.7L276.2 108.6L277.2 108.6L278.2 108.5L279.2 108.5L280.2 108.4L281.2 108.4L282.2 108.4L283.2 108.3L284.2 108.3L285.2 108.2L286.2 108.2L287.2 108.2L288.2 108.1L289.2 108.1L290.2 108.0L291.2 108.0L292.2 108.0L293.2 107.9L294.2 107.9L295.2 107.9L296.2 107.8L297.1 107.8L298.1 107.8L299.1 107.8L300.1 107.7L301.1 107.7L302.1 107.7L303.1 107.7L304.1 107.6L305.1 107.6L306.1 107.6L307.1 107.6L308.1 107.5L309.1 107.5L310.1 107.5L311.1 107.5L312.1 107.5L313.1 107.4L314.1 107.4L315.1 107.4L316.1 107.4L317.1 107.4L318.1 107.4L319.1 107.3L320.1 107.3L321.1 107.3L322.1 107.3L323.1 107.3L324.1 107.3L325.1 107.3L326.1 107.3L327.1 107.2L328.1 107.2L329.1 107.2L330.1 107.2L331.1 107.2L332.1 107.2L333.1 107.2L334.1 107.2L335.1 107.2L336.1 107.2L337.1 107.1L338.1 107.1L339.1 107.1L340.1 107.1L341.1 107.1L342.1 107.1L343.1 107.1L344.1 107.1L345.1 107.1L346.1 107.1L347.1 107.1L348.1 107.1L349.1 107.0L350.1 107.0L351.1 107.0L352.1 107.0L353.1 107.0L354.1 107.0L355.1 107.0L356.1 107.0L357.1 107.0L358.1 107.0L359.1 107.0L360.1 107.0L361.1 107.0L362.1 107.0L363.1 107.0L364.1 107.0L365.1 107.0L366.1 106.9L367.1 106.9L368.1 106.9L369.1 106.9L370.1 106.9L371.1 106.9L372.1 106.9L373.1 106.9L374.1 106.9L375.1 106.9L376.1 106.9L377.1 106.9L378.1 106.9L379.1 106.9L380.1 106.9L381.1 106.9L382.1 106.9L383.1 106.9L384.1 106.9L385.1 106.9L386.1 106.9L387.1 106.9L388.1 106.9L389.1 106.9L390.1 106.9L391.1 106.8L392.1 106.8L393.1 106.8L394.1 106.8L395.1 106.8L396.1 106.8L397.1 106.8L398.1 106.8L399.1 106.8L400.1 106.8L401.1 106.8L402.1 106.8L403.1 106.8L404.1 106.8L405.1 106.8L406.1 106.8L407.1 106.8L408.1 106.8L409.1 106.8L410.1 106.8L411.1 106.8L411.6 106.8" fill="none" stroke="#ff7f0e" stroke-width="2.3" stroke-linejoin="round"/><path d="M58.9 14.6L58.9 15.6L58.9 16.6L59.0 17.6L59.0 18.6L59.0 19.6L59.0 20.6L59.0 21.6L59.0 22.6L59.1 23.6L59.1 24.6L59.1 25.6L59.1 26.6L59.1 27.6L59.2 28.6L59.2 29.6L59.2 30.6L59.2 31.6L59.2 32.6L59.3 33.6L59.3 34.6L59.3 35.6L59.3 36.6L59.3 37.6L59.4 38.6L59.4 39.6L59.4 40.6L59.4 41.6L59.4 42.6L59.5 43.6L59.5 44.6L59.5 45.6L59.5 46.6L59.5 47.6L59.6 48.6L59.6 49.6L59.6 50.6L59.6 51.6L59.6 52.6L59.7 53.6L59.7 54.6L59.7 55.6L59.7 56.6L59.8 57.6L59.8 58.6L59.8 59.6L59.8 60.6L59.8 61.6L59.9 62.6L59.9 63.6L59.9 64.6L59.9 65.6L59.9 66.6L60.0 67.6L60.0 68.6L60.0 69.6L60.0 70.6L60.1 71.6L60.1 72.6L60.1 73.6L60.1 74.6L60.1 75.6L60.2 76.6L60.2 77.6L60.2 78.6L60.2 79.6L60.2 80.6L60.3 81.6L60.3 82.6L60.3 83.6L60.3 84.6L60.4 85.6L60.4 86.6L60.4 87.6L60.4 88.6L60.4 89.6L60.5 90.6L60.5 91.6L60.5 92.6L60.5 93.6L60.5 94.6L60.6 95.6L60.6 96.6L60.6 97.6L60.6 98.6L60.6 99.6L60.7 100.6L60.7 101.6L60.7 102.6L60.7 103.6L60.8 104.6L60.8 105.6L60.8 106.6L60.8 107.6L60.9 108.6L60.9 109.6L60.9 110.6L60.9 111.6L60.9 112.6L61.0 113.6L61.0 114.6L61.0 115.6L61.0 116.6L61.1 117.6L61.1 118.6L61.1 119.6L61.1 120.6L61.2 121.6L61.2 122.6L61.2 123.6L61.3 124.6L61.3 125.6L61.3 126.6L61.3 127.6L61.4 128.6L61.4 129.6L61.4 130.6L61.5 131.6L61.5 132.6L61.5 133.6L61.6 134.6L61.6 135.6L61.6 136.6L61.7 137.6L61.7 138.6L61.8 139.6L61.8 140.6L61.9 141.6L61.9 142.6L62.0 143.6L62.0 144.6L62.1 145.6L62.1 146.6L62.2 147.6L62.2 148.6L62.3 149.6L62.4 150.5L62.4 151.5L62.5 152.5L62.6 153.5L62.6 154.5L62.7 155.5L62.8 156.5L62.8 157.5L62.9 158.5L63.0 159.5L63.0 160.5L63.1 161.5L63.2 162.5L63.3 163.5L63.3 164.5L63.4 165.5L63.5 166.5L63.6 167.5L63.6 168.5L63.7 169.5L63.8 170.5L63.9 171.5L64.0 172.5L64.1 173.5L64.2 174.5L64.2 175.5L64.3 176.5L64.4 177.5L64.5 178.5L64.6 179.5L64.7 180.5L64.8 181.5L64.9 182.4L65.0 183.4L65.0 184.4L65.1 185.4L65.2 186.4L65.3 187.4L65.4 188.4L65.5 189.4L65.6 190.4L65.7 191.4L65.8 192.4L65.9 193.4L66.0 194.4L66.1 195.4L66.2 196.4L66.4 197.4L66.5 198.4L66.6 199.4L66.7 200.4L66.8 201.4L66.9 202.3L67.1 203.3L67.2 204.3L67.4 205.3L67.5 206.3L67.7 207.3L67.9 208.3L68.1 209.2L68.3 210.2L68.5 211.2L68.8 212.2L69.0 213.1L69.3 214.1L69.6 215.0L69.9 216.0L70.3 216.9L70.7 217.8L71.2 218.7L71.7 219.6L72.2 220.4L72.8 221.1L73.5 221.7L74.3 222.0L75.0 221.9L75.8 221.5L76.4 220.8L77.0 220.0L77.5 219.2L78.0 218.3L78.5 217.4L78.9 216.5L79.3 215.6L79.7 214.7L80.1 213.8L80.5 212.8L80.8 211.9L81.2 211.0L81.5 210.0L81.9 209.1L82.2 208.2L82.5 207.2L82.9 206.3L83.2 205.3L83.5 204.4L83.8 203.4L84.1 202.5L84.4 201.5L84.6 200.5L84.9 199.6L85.2 198.6L85.5 197.7L85.7 196.7L86.0 195.7L86.3 194.8L86.5 193.8L86.8 192.8L87.0 191.9L87.2 190.9L87.5 189.9L87.7 188.9L87.9 188.0L88.1 187.0L88.4 186.0L88.6 185.0L88.8 184.1L89.0 183.1L89.2 182.1L89.5 181.1L89.7 180.2L89.9 179.2L90.1 178.2L90.4 177.2L90.6 176.3L90.8 175.3L91.1 174.3L91.3 173.4L91.6 172.4L91.8 171.4L92.1 170.5L92.3 169.5L92.6 168.5L92.9 167.6L93.2 166.6L93.5 165.6L93.7 164.7L94.0 163.7L94.3 162.8L94.6 161.8L94.9 160.9L95.2 159.9L95.5 159.0L95.8 158.0L96.1 157.0L96.4 156.1L96.8 155.2L97.1 154.2L97.4 153.3L97.8 152.3L98.1 151.4L98.5 150.5L98.9 149.5L99.3 148.6L99.7 147.7L100.1 146.8L100.6 145.9L101.0 145.0L101.5 144.1L102.0 143.3L102.5 142.4L103.0 141.5L103.5 140.7L104.0 139.8L104.6 139.0L105.1 138.2L105.7 137.4L106.3 136.5L106.9 135.8L107.5 135.0L108.2 134.2L108.8 133.5L109.5 132.7L110.2 132.0L110.9 131.3L111.7 130.7L112.5 130.0L113.3 129.4L114.1 128.9L114.9 128.4L115.8 127.9L116.7 127.4L117.5 127.0L118.4 126.6L119.4 126.2L120.3 125.8L121.2 125.4L122.2 125.1L123.1 124.8L124.0 124.5L125.0 124.2L125.9 123.9L126.9 123.6L127.9 123.3L128.8 123.0L129.8 122.8L130.7 122.5L131.7 122.3L132.7 122.1L133.7 121.8L134.6 121.6L135.6 121.4L136.6 121.2L137.6 121.0L138.5 120.7L139.5 120.5L140.5 120.3L141.5 120.1L142.4 119.9L143.4 119.7L144.4 119.6L145.4 119.4L146.4 119.2L147.3 119.0L148.3 118.8L149.3 118.6L150.3 118.5L151.3 118.3L152.3 118.1L153.2 117.9L154.2 117.7L155.2 117.6L156.2 117.4L157.2 117.2L158.2 117.1L159.2 116.9L160.1 116.7L161.1 116.6L162.1 116.4L163.1 116.2L164.1 116.1L165.1 115.9L166.1 115.8L167.0 115.6L168.0 115.5L169.0 115.3L170.0 115.2L171.0 115.0L172.0 114.9L173.0 114.7L174.0 114.6L175.0 114.5L175.9 114.3L176.9 114.2L177.9 114.0L178.9 113.9L179.9 113.8L180.9 113.7L181.9 113.5L182.9 113.4L183.9 113.3L184.9 113.2L185.9 113.0L186.9 112.9L187.8 112.8L188.8 112.7L189.8 112.6L190.8 112.5L191.8 112.4L192.8 112.3L193.8 112.2L194.8 112.1L195.8 112.0L196.8 111.9L197.8 111.8L198.8 111.7L199.8 111.6L200.8 111.5L201.8 111.4L202.8 111.3L203.8 111.3L204.8 111.2L205.8 111.1L206.8 111.0L207.8 111.0L208.7 110.9L209.7 110.8L210.7 110.7L211.7 110.7L212.7 110.6L213.7 110.5L214.7 110.5L215.7 110.4L216.7 110.3L217.7 110.3L218.7 110.2L219.7 110.1L220.7 110.1L221.7 110.0L222.7 109.9L223.7 109.9L224.7 109.8L225.7 109.8L226.7 109.7L227.7 109.6L228.7 109.6L229.7 109.5L230.7 109.5L231.7 109.4L232.7 109.3L233.7 109.3L234.7 109.2L235.7 109.2L236.7 109.1L237.7 109.1L238.7 109.0L239.7 109.0L240.7 108.9L241.7 108.9L242.7 108.8L243.7 108.8L244.7 108.7L245.7 108.7L246.7 108.6L247.7 108.6L248.7 108.6L249.7 108.5L250.7 108.5L251.7 108.4L252.7 108.4L253.7 108.3L254.7 108.3L255.7 108.3L256.7 108.2L257.7 108.2L258.7 108.2L259.7 108.1L260.7 108.1L261.7 108.1L262.7 108.0L263.7 108.0L264.7 108.0L265.7 107.9L266.7 107.9L267.7 107.9L268.7 107.8L269.7 107.8L270.7 107.8L271.7 107.8L272.7 107.7L273.7 107.7L274.7 107.7L275.7 107.7L276.7 107.6L277.7 107.6L278.7 107.6L279.7 107.6L280.7 107.5L281.7 107.5L282.7 107.5L283.7 107.5L284.7 107.5L285.7 107.5L286.7 107.4L287.7 107.4L288.7 107.4L289.7 107.4L290.7 107.4L291.7 107.4L292.7 107.3L293.7 107.3L294.7 107.3L295.7 107.3L296.7 107.3L297.7 107.3L298.7 107.3L299.7 107.3L300.7 107.2L301.7 107.2L302.7 107.2L303.7 107.2L304.7 107.2L305.7 107.2L306.7 107.2L307.7 107.2L308.7 107.2L309.7 107.2L310.7 107.1L311.7 107.1L312.7 107.1L313.7 107.1L314.7 107.1L315.7 107.1L316.7 107.1L317.7 107.1L318.7 107.1L319.7 107.1L320.7 107.1L321.7 107.1L322.7 107.1L323.7 107.1L324.7 107.0L325.7 107.0L326.7 107.0L327.7 107.0L328.7 107.0L329.7 107.0L330.7 107.0L331.7 107.0L332.7 107.0L333.7 107.0L334.7 107.0L335.7 107.0L336.7 107.0L337.7 107.0L338.7 107.0L339.7 107.0L340.7 107.0L341.7 107.0L342.7 107.0L343.7 107.0L344.7 106.9L345.7 106.9L346.7 106.9L347.7 106.9L348.7 106.9L349.7 106.9L350.7 106.9L351.7 106.9L352.7 106.9L353.7 106.9L354.7 106.9L355.7 106.9L356.7 106.9L357.7 106.9L358.7 106.9L359.7 106.9L360.7 106.9L361.7 106.9L362.7 106.9L363.7 106.9L364.7 106.9L365.7 106.9L366.7 106.9L367.7 106.9L368.7 106.9L369.7 106.9L370.7 106.9L371.7 106.9L372.7 106.9L373.7 106.9L374.7 106.9L375.7 106.9L376.7 106.9L377.7 106.8L378.7 106.8L379.7 106.8L380.7 106.8L381.7 106.8L382.7 106.8L383.7 106.8L384.7 106.8L385.7 106.8L386.7 106.8L387.7 106.8L388.7 106.8L389.7 106.8L390.7 106.8L391.7 106.8L392.7 106.8L393.7 106.8L394.7 106.8L395.7 106.8L396.7 106.8L397.7 106.8L398.7 106.8L399.7 106.8L400.7 106.8L401.7 106.8L402.7 106.8L403.7 106.8L404.7 106.8L405.7 106.8L406.7 106.8L407.7 106.8L408.7 106.8L409.7 106.8L410.7 106.8L411.7 106.8" fill="none" stroke="#14f514" stroke-width="2.3" stroke-linejoin="round"/><path d="M64.8 14.6L64.8 15.6L64.8 16.6L64.8 17.6L64.9 18.6L64.9 19.6L64.9 20.6L64.9 21.6L64.9 22.6L65.0 23.6L65.0 24.6L65.0 25.6L65.0 26.6L65.0 27.6L65.0 28.6L65.1 29.6L65.1 30.6L65.1 31.6L65.1 32.6L65.1 33.6L65.1 34.6L65.2 35.6L65.2 36.6L65.2 37.6L65.2 38.6L65.2 39.6L65.3 40.6L65.3 41.6L65.3 42.6L65.3 43.6L65.3 44.6L65.3 45.6L65.4 46.6L65.4 47.6L65.4 48.6L65.4 49.6L65.4 50.6L65.5 51.6L65.5 52.6L65.5 53.6L65.5 54.6L65.5 55.6L65.6 56.6L65.6 57.6L65.6 58.6L65.6 59.6L65.6 60.6L65.7 61.6L65.7 62.6L65.7 63.6L65.7 64.6L65.7 65.6L65.8 66.6L65.8 67.6L65.8 68.6L65.8 69.6L65.8 70.6L65.8 71.6L65.9 72.6L65.9 73.6L65.9 74.6L65.9 75.6L65.9 76.6L66.0 77.6L66.0 78.6L66.0 79.6L66.0 80.6L66.0 81.6L66.0 82.6L66.1 83.6L66.1 84.6L66.1 85.6L66.1 86.6L66.1 87.6L66.2 88.6L66.2 89.6L66.2 90.6L66.2 91.6L66.2 92.6L66.2 93.6L66.3 94.6L66.3 95.6L66.3 96.6L66.3 97.6L66.3 98.6L66.3 99.6L66.4 100.6L66.4 101.6L66.4 102.6L66.4 103.6L66.4 104.6L66.5 105.6L66.5 106.6L66.5 107.6L66.5 108.6L66.5 109.6L66.6 110.6L66.6 111.6L66.6 112.6L66.6 113.6L66.6 114.6L66.7 115.6L66.7 116.6L66.7 117.6L66.7 118.6L66.7 119.6L66.8 120.6L66.8 121.6L66.8 122.6L66.8 123.6L66.9 124.6L66.9 125.6L66.9 126.6L66.9 127.6L67.0 128.6L67.0 129.6L67.0 130.6L67.1 131.6L67.1 132.6L67.1 133.6L67.2 134.6L67.2 135.6L67.2 136.6L67.3 137.6L67.3 138.6L67.4 139.6L67.4 140.6L67.5 141.6L67.5 142.6L67.6 143.6L67.7 144.6L67.8 145.6L67.8 146.6L67.9 147.6L68.0 148.5L68.1 149.5L68.2 150.5L68.3 151.5L68.4 152.5L68.5 153.5L68.5 154.5L68.6 155.5L68.7 156.5L68.8 157.5L68.9 158.5L69.0 159.5L69.0 160.5L69.1 161.5L69.2 162.5L69.3 163.5L69.3 164.5L69.4 165.5L69.5 166.5L69.5 167.5L69.6 168.5L69.7 169.5L69.8 170.5L69.8 171.5L69.9 172.5L70.0 173.5L70.0 174.5L70.1 175.5L70.2 176.5L70.2 177.5L70.3 178.5L70.4 179.5L70.5 180.5L70.5 181.5L70.6 182.4L70.7 183.4L70.7 184.4L70.8 185.4L70.9 186.4L70.9 187.4L71.0 188.4L71.1 189.4L71.1 190.4L71.2 191.4L71.3 192.4L71.3 193.4L71.4 194.4L71.4 195.4L71.5 196.4L71.5 197.4L71.6 198.4L71.7 199.4L71.7 200.4L71.8 201.4L71.9 202.4L71.9 203.4L72.0 204.4L72.1 205.4L72.2 206.4L72.2 207.4L72.3 208.4L72.4 209.4L72.5 210.4L72.7 211.4L72.8 212.4L72.9 213.4L73.0 214.3L73.2 215.3L73.3 216.3L73.4 217.3L73.6 218.3L73.7 219.3L73.9 220.3L74.0 221.3L74.2 222.3L74.4 223.2L74.6 224.2L74.8 225.2L75.0 226.2L75.3 227.1L75.5 228.1L75.7 229.1L75.9 230.1L76.1 231.0L76.3 232.0L76.5 233.0L76.7 234.0L76.9 235.0L77.1 235.9L77.3 236.9L77.6 237.9L77.8 238.9L78.0 239.9L78.2 240.8L78.4 241.8L78.7 242.8L78.9 243.7L79.2 244.7L79.5 245.7L79.8 246.6L80.1 247.6L80.4 248.5L80.8 249.5L81.1 250.4L81.5 251.3L81.8 252.3L82.2 253.2L82.5 254.1L82.9 255.1L83.2 256.0L83.6 256.9L84.0 257.8L84.4 258.8L84.9 259.6L85.3 260.5L85.9 261.4L86.4 262.2L87.0 263.0L87.6 263.8L88.3 264.5L89.1 265.1L89.9 265.7L90.8 266.1L91.7 266.4L92.6 266.6L93.6 266.6L94.5 266.4L95.4 266.0L96.3 265.6L97.1 265.0L97.8 264.4L98.5 263.7L99.2 262.9L99.8 262.1L100.4 261.3L100.9 260.5L101.4 259.6L101.9 258.7L102.4 257.8L102.8 256.9L103.2 256.0L103.5 255.1L103.9 254.2L104.2 253.2L104.6 252.3L104.9 251.3L105.2 250.4L105.6 249.4L105.9 248.5L106.2 247.5L106.5 246.6L106.8 245.6L107.1 244.7L107.4 243.7L107.6 242.8L107.9 241.8L108.2 240.8L108.4 239.9L108.7 238.9L109.0 237.9L109.2 237.0L109.4 236.0L109.7 235.0L109.9 234.0L110.1 233.1L110.4 232.1L110.6 231.1L110.8 230.2L111.1 229.2L111.3 228.2L111.6 227.3L111.8 226.3L112.1 225.3L112.3 224.3L112.6 223.4L112.8 222.4L113.0 221.4L113.2 220.5L113.5 219.5L113.7 218.5L113.9 217.5L114.1 216.6L114.4 215.6L114.6 214.6L114.8 213.6L115.0 212.6L115.2 211.7L115.4 210.7L115.6 209.7L115.8 208.7L116.0 207.8L116.2 206.8L116.4 205.8L116.6 204.8L116.8 203.8L117.1 202.9L117.3 201.9L117.5 200.9L117.7 199.9L117.9 199.0L118.1 198.0L118.4 197.0L118.6 196.0L118.8 195.1L119.1 194.1L119.3 193.1L119.6 192.2L119.8 191.2L120.1 190.2L120.3 189.2L120.6 188.3L120.8 187.3L121.1 186.3L121.3 185.4L121.6 184.4L121.9 183.5L122.2 182.5L122.4 181.5L122.7 180.6L123.0 179.6L123.3 178.7L123.6 177.7L123.9 176.8L124.2 175.8L124.5 174.8L124.8 173.9L125.0 172.9L125.3 172.0L125.6 171.0L125.8 170.0L126.1 169.1L126.4 168.1L126.6 167.1L126.9 166.2L127.2 165.2L127.5 164.3L127.9 163.3L128.2 162.4L128.6 161.5L129.0 160.6L129.5 159.7L129.9 158.8L130.4 157.9L130.9 157.0L131.4 156.2L131.9 155.3L132.4 154.4L132.9 153.6L133.5 152.8L134.0 151.9L134.6 151.1L135.3 150.4L135.9 149.6L136.6 148.9L137.4 148.2L138.1 147.6L138.9 146.9L139.7 146.4L140.5 145.8L141.4 145.2L142.2 144.7L143.1 144.2L144.0 143.8L144.9 143.4L145.8 143.0L146.8 142.7L147.7 142.4L148.7 142.2L149.7 142.0L150.6 141.8L151.6 141.6L152.6 141.5L153.6 141.4L154.6 141.3L155.6 141.2L156.6 141.2L157.6 141.1L158.6 141.1L159.6 141.0L160.6 141.0L161.6 141.0L162.6 141.0L163.6 141.0L164.6 141.0L165.6 141.1L166.6 141.1L167.6 141.1L168.6 141.1L169.6 141.2L170.6 141.2L171.6 141.2L172.6 141.2L173.6 141.2L174.6 141.2L175.6 141.2L176.6 141.2L177.6 141.2L178.6 141.2L179.6 141.2L180.6 141.2L181.6 141.2L182.6 141.2L183.6 141.2L184.6 141.2L185.6 141.2L186.6 141.2L187.6 141.2L188.6 141.2L189.6 141.2L190.6 141.2L191.6 141.2L192.6 141.2L193.6 141.2L194.6 141.2L195.6 141.2L196.6 141.2L197.6 141.2L198.6 141.2L199.6 141.2L200.6 141.2L201.6 141.2L202.6 141.2L203.6 141.2L204.6 141.2L205.6 141.2L206.6 141.2L207.6 141.2L208.6 141.2L209.6 141.2L210.6 141.2L211.6 141.2L212.6 141.2L213.6 141.2L214.6 141.2L215.6 141.2L216.6 141.2L217.6 141.2L218.6 141.2L219.6 141.2L220.6 141.2L221.6 141.2L222.6 141.2L223.6 141.2L224.6 141.2L225.6 141.2L226.6 141.2L227.6 141.2L228.6 141.2L229.6 141.2L230.6 141.2L231.6 141.3L232.6 141.3L233.6 141.2L234.6 141.3L235.6 141.2L236.6 141.2L237.6 141.2L238.6 141.3L239.6 141.2L240.6 141.2L241.6 141.2L242.6 141.2L243.6 141.2L244.6 141.3L245.6 141.2L246.6 141.2L247.6 141.2L248.6 141.3L249.6 141.2L250.6 141.3L251.6 141.2L252.6 141.3L253.6 141.2L254.6 141.3L255.6 141.3L256.6 141.3L257.6 141.2L258.6 141.2L259.6 141.2L260.6 141.2L261.6 141.2L262.6 141.2L263.6 141.2L264.6 141.3L265.6 141.2L266.6 141.2L267.6 141.2L268.6 141.2L269.6 141.2L270.6 141.2L271.6 141.2L272.6 141.2L273.6 141.2L274.6 141.2L275.6 141.2L276.6 141.2L277.6 141.2L278.6 141.2L279.6 141.2L280.6 141.2L281.6 141.2L282.6 141.3L283.6 141.2L284.6 141.3L285.6 141.2L286.6 141.3L287.6 141.3L288.6 141.2L289.6 141.2L290.6 141.2L291.6 141.2L292.6 141.2L293.6 141.3L294.6 141.3L295.6 141.2L296.6 141.3L297.6 141.2L298.6 141.3L299.6 141.3L300.6 141.2L301.6 141.2L302.6 141.3L303.6 141.2L304.6 141.3L305.6 141.2L306.6 141.2L307.6 141.3L308.6 141.3L309.6 141.2L310.6 141.2L311.6 141.2L312.6 141.3L313.6 141.3L314.6 141.2L315.6 141.2L316.6 141.2L317.6 141.2L318.6 141.2L319.6 141.3L320.6 141.2L321.6 141.3L322.6 141.2L323.6 141.2L324.6 141.2L325.6 141.2L326.6 141.2L327.6 141.2L328.6 141.2L329.6 141.2L330.6 141.2L331.6 141.2L332.6 141.3L333.6 141.2L334.6 141.3L335.6 141.2L336.6 141.2L337.6 141.2L338.6 141.3L339.6 141.2L340.6 141.2L341.6 141.3L342.6 141.3L343.6 141.2L344.6 141.3L345.6 141.2L346.6 141.3L347.6 141.3L348.6 141.2L349.6 141.2L350.6 141.3L351.6 141.2L352.6 141.3L353.6 141.2L354.6 141.2L355.6 141.2L356.6 141.2L357.6 141.2L358.6 141.2L359.6 141.2L360.6 141.3L361.6 141.2L362.6 141.2L363.6 141.2L364.6 141.2L365.6 141.2L366.6 141.2L367.6 141.2L368.6 141.2L369.6 141.2L370.6 141.2L371.6 141.2L372.6 141.2L373.6 141.2L374.6 141.2L375.6 141.2L376.6 141.2L377.6 141.2L378.6 141.3L379.6 141.3L380.6 141.3L381.6 141.2L382.6 141.3L383.6 141.3L384.6 141.2L385.6 141.2L386.6 141.2L387.6 141.2L388.6 141.2L389.6 141.3L390.6 141.3L391.6 141.2L392.6 141.3L393.6 141.2L394.6 141.3L395.6 141.3L396.6 141.2L397.6 141.2L398.6 141.3L399.6 141.2L400.6 141.3L401.6 141.2L402.6 141.2L403.6 141.2L404.6 141.2L405.6 141.3L406.6 141.2L407.6 141.2L408.6 141.2L409.6 141.3L410.6 141.2L411.6 141.2" fill="none" stroke="#0a62ff" stroke-width="2.3" stroke-linejoin="round" stroke-dasharray="6.5 3.02" stroke-dashoffset="-6.50"/><g stroke="#404040" stroke-width="1.3" fill="none" shape-rendering="auto"><path d="M0.8 222.85H411.6" stroke-width="1.0"/><path d="M74.55 17.4V272.5"/><path d="M14.75 222.85v-4.4" stroke-width="1.0"/><path d="M29.70 222.85v-2.7" stroke-width="1.0"/><path d="M44.65 222.85v-2.7" stroke-width="1.0"/><path d="M59.60 222.85v-2.7" stroke-width="1.0"/><path d="M89.50 222.85v-2.7" stroke-width="1.0"/><path d="M104.45 222.85v-2.7" stroke-width="1.0"/><path d="M119.40 222.85v-2.7" stroke-width="1.0"/><path d="M134.35 222.85v-4.4" stroke-width="1.0"/><path d="M149.30 222.85v-2.7" stroke-width="1.0"/><path d="M164.25 222.85v-2.7" stroke-width="1.0"/><path d="M179.20 222.85v-2.7" stroke-width="1.0"/><path d="M194.15 222.85v-4.4" stroke-width="1.0"/><path d="M209.10 222.85v-2.7" stroke-width="1.0"/><path d="M224.05 222.85v-2.7" stroke-width="1.0"/><path d="M239.00 222.85v-2.7" stroke-width="1.0"/><path d="M253.95 222.85v-4.4" stroke-width="1.0"/><path d="M268.90 222.85v-2.7" stroke-width="1.0"/><path d="M283.85 222.85v-2.7" stroke-width="1.0"/><path d="M298.80 222.85v-2.7" stroke-width="1.0"/><path d="M313.75 222.85v-4.4" stroke-width="1.0"/><path d="M328.70 222.85v-2.7" stroke-width="1.0"/><path d="M343.65 222.85v-2.7" stroke-width="1.0"/><path d="M358.60 222.85v-2.7" stroke-width="1.0"/><path d="M373.55 222.85v-4.4" stroke-width="1.0"/><path d="M388.50 222.85v-2.7" stroke-width="1.0"/><path d="M403.45 222.85v-2.7" stroke-width="1.0"/><path d="M74.55 272.11h3.2" stroke-width="1.0"/><path d="M74.55 263.90h4.9" stroke-width="1.0"/><path d="M74.55 255.69h3.2" stroke-width="1.0"/><path d="M74.55 247.48h3.2" stroke-width="1.0"/><path d="M74.55 239.27h3.2" stroke-width="1.0"/><path d="M74.55 231.06h3.2" stroke-width="1.0"/><path d="M74.55 214.64h3.2" stroke-width="1.0"/><path d="M74.55 206.43h3.2" stroke-width="1.0"/><path d="M74.55 198.22h3.2" stroke-width="1.0"/><path d="M74.55 190.01h3.2" stroke-width="1.0"/><path d="M74.55 181.80h4.9" stroke-width="1.0"/><path d="M74.55 173.59h3.2" stroke-width="1.0"/><path d="M74.55 165.38h3.2" stroke-width="1.0"/><path d="M74.55 157.17h3.2" stroke-width="1.0"/><path d="M74.55 148.96h3.2" stroke-width="1.0"/><path d="M74.55 140.75h4.9" stroke-width="1.0"/><path d="M74.55 132.54h3.2" stroke-width="1.0"/><path d="M74.55 124.33h3.2" stroke-width="1.0"/><path d="M74.55 116.12h3.2" stroke-width="1.0"/><path d="M74.55 107.91h3.2" stroke-width="1.0"/><path d="M74.55 99.70h4.9" stroke-width="1.0"/><path d="M74.55 91.49h3.2" stroke-width="1.0"/><path d="M74.55 83.28h3.2" stroke-width="1.0"/><path d="M74.55 75.07h3.2" stroke-width="1.0"/><path d="M74.55 66.86h3.2" stroke-width="1.0"/><path d="M74.55 58.65h4.9" stroke-width="1.0"/><path d="M74.55 50.44h3.2" stroke-width="1.0"/><path d="M74.55 42.23h3.2" stroke-width="1.0"/><path d="M74.55 34.02h3.2" stroke-width="1.0"/><path d="M74.55 25.81h3.2" stroke-width="1.0"/><path d="M74.55 17.60h4.9" stroke-width="1.0"/></g></svg>
<div class="l" style="left:-15.45px;top:226.40px;width:60px;text-align:center;">−2</div><div class="l" style="left:104.15px;top:226.40px;width:60px;text-align:center;">2</div><div class="l" style="left:163.95px;top:226.40px;width:60px;text-align:center;">4</div><div class="l" style="left:223.75px;top:226.40px;width:60px;text-align:center;">6</div><div class="l" style="left:283.55px;top:226.40px;width:60px;text-align:center;">8</div><div class="l" style="left:343.35px;top:226.40px;width:60px;text-align:center;">10</div><div class="l" style="left:10.80px;top:259.40px;width:60px;text-align:right;">−0.5</div><div class="l" style="left:10.80px;top:177.30px;width:60px;text-align:right;">0.5</div><div class="l" style="left:10.80px;top:136.25px;width:60px;text-align:right;">1.0</div><div class="l" style="left:10.80px;top:95.20px;width:60px;text-align:right;">1.5</div><div class="l" style="left:10.80px;top:54.15px;width:60px;text-align:right;">2.0</div><div class="l" style="left:10.80px;top:13.10px;width:60px;text-align:right;">2.5</div><div class="l" style="left:70.90px;top:1.20px;">H</div><div class="l" style="left:421.20px;top:218.00px;-webkit-text-stroke:0.1px #000"><i>t</i></div><div class="l" style="left:388.70px;top:29.90px;-webkit-text-stroke:0;font-size:10.6px">(<i>b</i>)</div>
</body></html>
